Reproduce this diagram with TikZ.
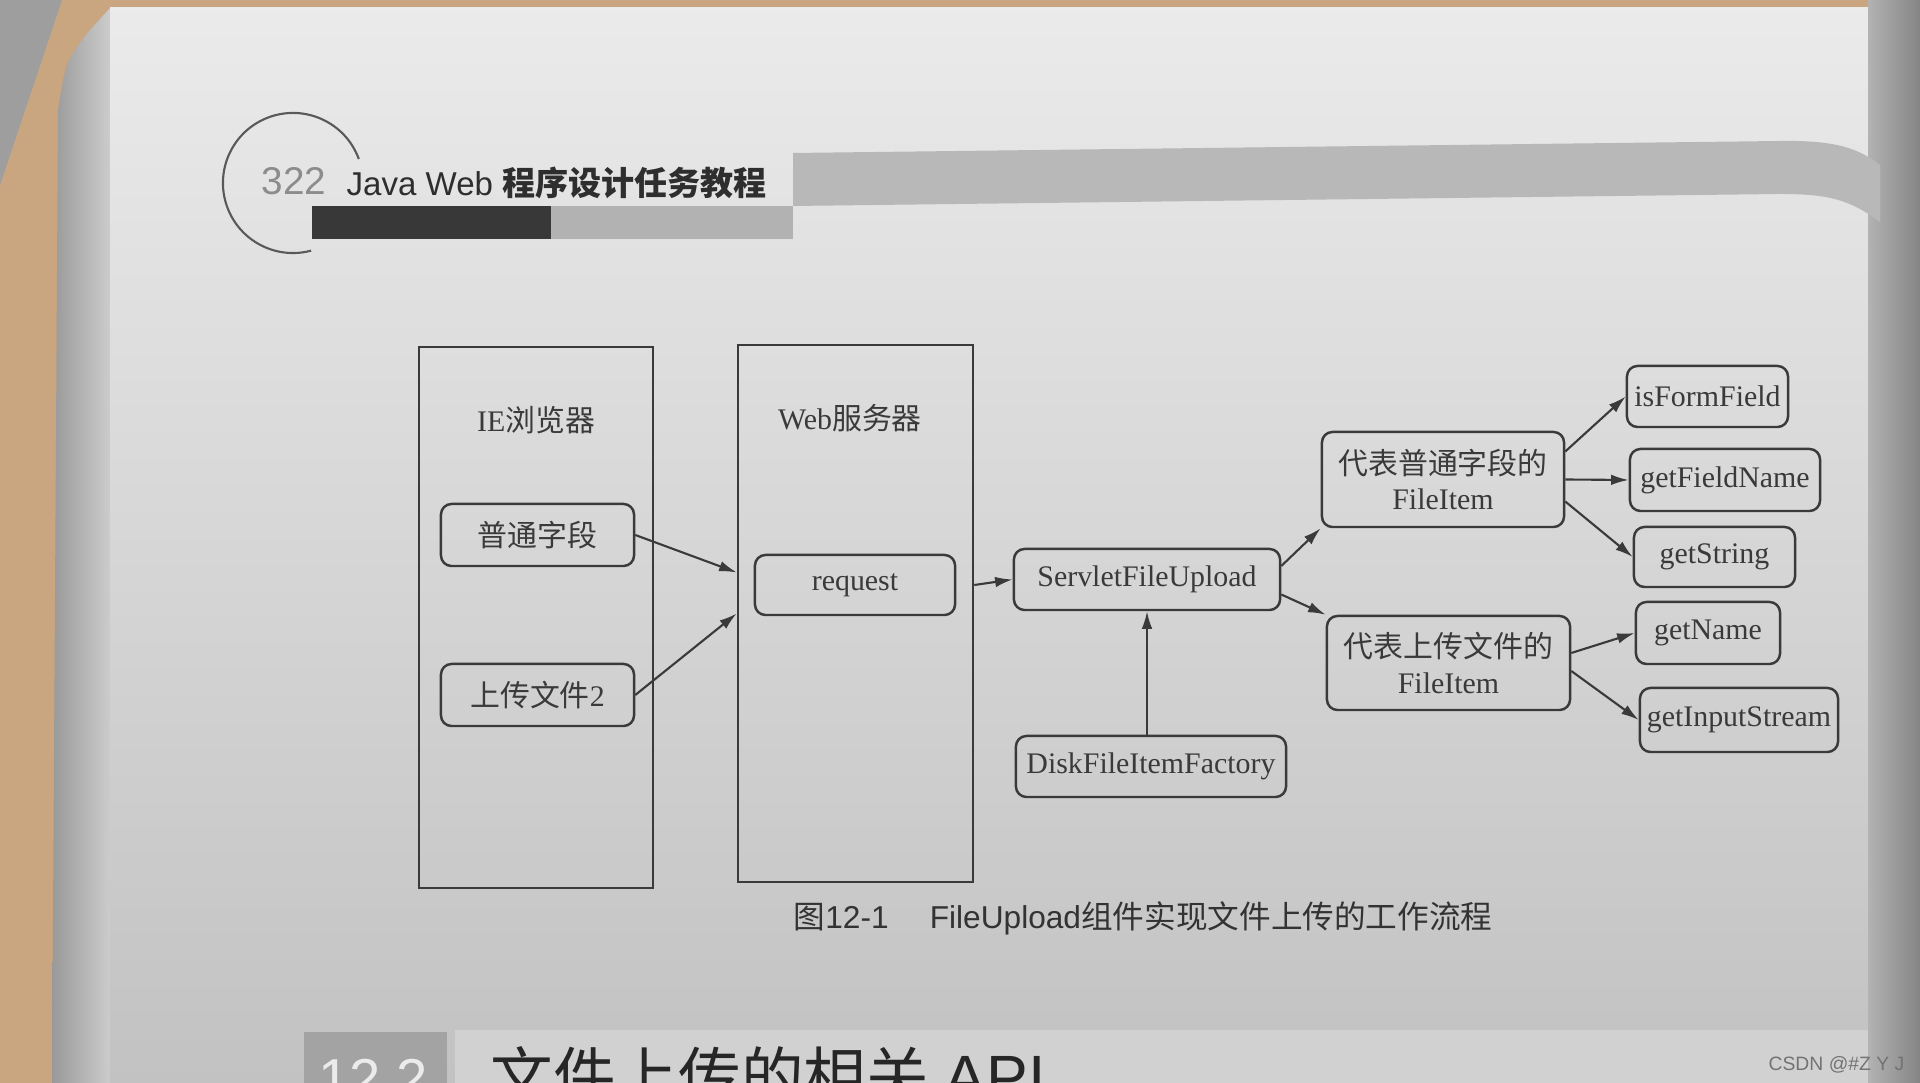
\documentclass[tikz,border=0pt]{standalone}
\usepackage{fontspec}
\setmainfont{Liberation Serif}
\newfontfamily\cjk{Noto Sans CJK SC}
\newfontfamily\headfont{Liberation Sans}
\usetikzlibrary{arrows.meta}
\definecolor{ink}{RGB}{58,58,58}
\definecolor{wood}{RGB}{201,166,128}
\newcommand{\zh}[1]{{\cjk #1}}
\tikzset{
    lanebox/.style={draw=ink, line width=0.7pt, minimum width=2.34cm,
                    minimum height=#1},
    apibox/.style={draw=ink, line width=0.7pt, rounded corners=3pt,
                   minimum width=#1, minimum height=0.61cm, inner sep=1pt,
                   font=\fontsize{8.5}{10}\selectfont, text=ink, align=center},
    lanetitle/.style={font=\fontsize{8.5}{10}\selectfont, text=ink},
}

\begin{document}
\begin{tikzpicture}[
    x=0.01cm, y=-0.01cm,
    conn/.style={draw=ink, line width=0.6pt, -{Latex[length=5pt,width=3pt]}}
]
    \useasboundingbox (0,0) rectangle (1920,1083);
    \clip (0,0) rectangle (1920,1083);

    % desk, page edge and page
    \fill[wood] (0,0) rectangle (1920,1083);
    \fill[black!38] (0,0) -- (62,0) -- (0,185) -- cycle;
    \shade[left color=black!40, right color=black!20]
        (110,8) -- (90,30) .. controls (66,60) .. (58,110) -- (52,1083) -- (110,1083) -- cycle;
    \shade[top color=black!8, middle color=black!12, bottom color=black!24]
        (110,8) rectangle (1870,1083);
    \shade[left color=black!30, right color=black!48] (1868,0) rectangle (1920,1083);

    % page header
    \fill[black!28] (793,153) -- (1780,141) .. controls (1840,140) and (1860,150) .. (1880,165)
        -- (1880,222) .. controls (1850,200) and (1830,194) .. (1780,194) -- (793,206) -- cycle;
    \draw[black!65, line width=0.6pt] (293,183) ++(20:0.7cm)
        arc[start angle=20, end angle=285, radius=0.7cm];
    \fill[black!78] (312,206) rectangle (551,239);
    \fill[black!30] (551,206) rectangle (793,239);
    \node[anchor=west, inner sep=0, text=black!45,
          font=\headfont\fontsize{11}{11}\selectfont] (pagenum) at (261,181) {322};
    \node[anchor=west, inner sep=0, text=black!82,
          font=\fontsize{9.4}{11}\selectfont] (booktitle) at (346,183)
          {\headfont Java Web {\cjk\bfseries 程序设计任务教程}};

    % browser and server lanes
    \node[lanebox=5.41cm] (ie) at (536,617.5) {};
    \node[lanetitle] (ietitle) at (536,420) {IE\zh{浏览器}};
    \node[apibox=1.93cm, minimum height=0.62cm] (field) at (537.5,535) {\zh{普通字段}};
    \node[apibox=1.93cm, minimum height=0.62cm] (upload) at (537.5,695) {\zh{上传文件}2};

    \node[lanebox=5.37cm, minimum width=2.35cm] (web) at (855.5,613.5) {};
    \node[lanetitle] (webtitle) at (850,418) {Web\zh{服务器}};
    \node[apibox=2cm, minimum height=0.6cm] (request) at (855,585) {request};

    % upload components
    \node[apibox=2.66cm] (servlet) at (1147,579.5) {ServletFileUpload};
    \node[apibox=2.7cm] (factory) at (1151,766.5) {DiskFileItemFactory};
    \node[apibox=2.42cm, minimum height=0.95cm] (formitem) at (1443,479.5)
        {\zh{代表普通字段的}\\FileItem};
    \node[apibox=2.43cm, minimum height=0.94cm] (fileitem) at (1448.5,663)
        {\zh{代表上传文件的}\\FileItem};

    % FileItem methods
    \node[apibox=1.61cm] (isform) at (1707.5,396.5) {isFormField};
    \node[apibox=1.9cm, minimum height=0.62cm] (fieldname) at (1725,480) {getFieldName};
    \node[apibox=1.61cm, minimum height=0.6cm] (getstring) at (1714.5,557) {getString};
    \node[apibox=1.44cm, minimum height=0.62cm] (getname) at (1708,633) {getName};
    \node[apibox=1.98cm, minimum height=0.64cm] (instream) at (1739,720) {getInputStream};

    \draw[conn] (field.east) -- ([yshift=0.41cm]web.west);
    \draw[conn] (upload.east) -- (web.west);
    \draw[conn] (request -| web.east) -- (servlet.west);
    \draw[conn] (factory.north -| servlet.south) -- (servlet.south);
    \draw[conn] ([yshift=0.135cm]servlet.east) -- (formitem.south west);
    \draw[conn] ([yshift=-0.15cm]servlet.east) -- (fileitem.north west);
    \draw[conn] ([yshift=0.28cm]formitem.east) -- (isform.west);
    \draw[conn] (formitem.east) -- (fieldname.west);
    \draw[conn] ([yshift=-0.22cm]formitem.east) -- (getstring.west);
    \draw[conn] ([yshift=0.1cm]fileitem.east) -- (getname.west);
    \draw[conn] ([yshift=-0.08cm]fileitem.east) -- (instream.west);

    % caption
    \node[anchor=west, inner sep=0, text=black!80,
          font=\fontsize{9}{10}\selectfont] (caption) at (793,918)
          {\zh{图}\headfont 12-1\hspace{1.3em}FileUpload\zh{组件实现文件上传的工作流程}};

    % next section heading
    \fill[black!18] (455,1030) rectangle (1868,1083);
    \fill[black!36] (304,1032) rectangle (447,1083);
    \node[anchor=base west, inner sep=0, text=white!92!black,
          font=\headfont\fontsize{16}{16}\selectfont] (secnum) at (318,1099) {12.2};
    \node[anchor=base west, inner sep=0, text=black!85,
          font=\fontsize{17.8}{18}\selectfont] (sectitle) at (490,1100)
          {\zh{文件上传的相关} \headfont API};

    \node[anchor=east, inner sep=0, text=black!55,
          font=\headfont\fontsize{5.5}{6}\selectfont] (mark) at (1905,1065) {CSDN @\#Z Y J};
\end{tikzpicture}
\end{document}
